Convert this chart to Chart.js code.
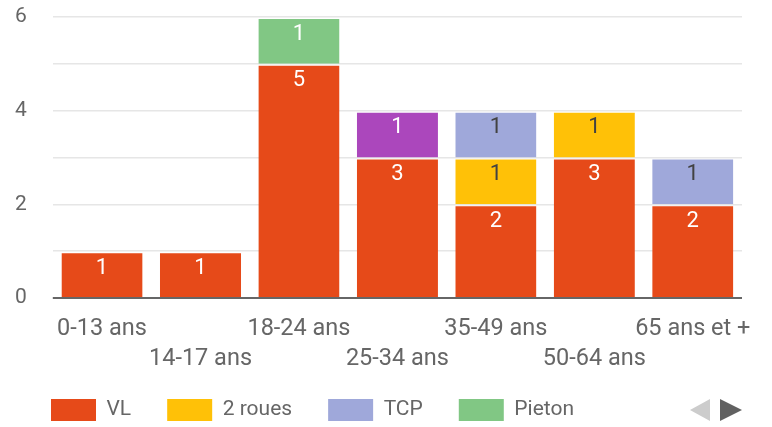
<!DOCTYPE html>
<html>
<head>
<meta charset="utf-8">
<script src="https://cdn.jsdelivr.net/npm/chart.js@4.4.1/dist/chart.umd.min.js"></script>
<style>
  html, body { margin: 0; padding: 0; background: #fff; }
  #wrap { width: 772px; height: 427px; }
</style>
</head>
<body>
<div id="wrap"><canvas id="chart"></canvas></div>
<script>
// age groups on the x axis
const categories = ['0-13 ans', '14-17 ans', '18-24 ans', '25-34 ans', '35-49 ans', '50-64 ans', '65 ans et +'];

// series (stacked bottom -> top)
const vl     = [1, 1, 5, 3, 2, 3, 2];
const roues2 = [0, 0, 0, 0, 1, 1, 0];
const tcp    = [0, 0, 0, 0, 1, 0, 1];
const pieton = [0, 0, 1, 0, 0, 0, 0];
const autre  = [0, 0, 0, 1, 0, 0, 0]; // 5th series, legend shows it on page 2

const yMax = 6;
const yLabelStep = 2;

const TEXT = '#666';
const FONT = 'Roboto';

function barSet(label, data, color, labelColor) {
  return {
    label: label,
    data: data,
    backgroundColor: color,
    borderColor: 'rgba(0,0,0,0)',
    borderWidth: { top: 2, left: 0, right: 0, bottom: 0 },
    labelColor: labelColor,
    barPercentage: 0.824,
    categoryPercentage: 1
  };
}

// value inside each segment + dark baseline drawn over the bars
const valueLabels = {
  id: 'valueLabels',
  afterDatasetsDraw(chart) {
    const ctx = chart.ctx;
    ctx.save();
    ctx.font = '22px ' + FONT;
    ctx.textAlign = 'center';
    ctx.textBaseline = 'middle';
    chart.data.datasets.forEach((ds, i) => {
      const meta = chart.getDatasetMeta(i);
      meta.data.forEach((bar, j) => {
        const v = ds.data[j];
        if (!v) return;
        ctx.fillStyle = ds.labelColor;
        ctx.fillText(String(v), bar.x, bar.y + 17);
      });
    });
    const y0 = chart.scales.y.getPixelForValue(0);
    ctx.strokeStyle = TEXT;
    ctx.lineWidth = 2;
    ctx.beginPath();
    ctx.moveTo(chart.chartArea.left, y0);
    ctx.lineTo(chart.chartArea.right, y0);
    ctx.stroke();
    ctx.restore();
  }
};

// legend sits a bit higher than the x labels' box allows
const legendNudge = {
  id: 'legendNudge',
  afterLayout(chart) {
    if (chart.legend) chart.legend.top -= 10;
  }
};

// legend paging arrows (Google-style)
const pagerArrows = {
  id: 'pagerArrows',
  afterDraw(chart) {
    const lg = chart.legend;
    if (!lg) return;
    const ctx = chart.ctx;
    const cy = lg.top + lg.options.labels.padding + 11;
    const r = chart.chartArea.right;
    ctx.save();
    ctx.fillStyle = '#ccc';
    ctx.beginPath();
    ctx.moveTo(r - 52, cy);
    ctx.lineTo(r - 32, cy - 11);
    ctx.lineTo(r - 32, cy + 11);
    ctx.closePath();
    ctx.fill();
    ctx.fillStyle = '#616161';
    ctx.beginPath();
    ctx.moveTo(r - 22, cy - 11);
    ctx.lineTo(r, cy);
    ctx.lineTo(r - 22, cy + 11);
    ctx.closePath();
    ctx.fill();
    ctx.restore();
  }
};

new Chart(document.getElementById('chart').getContext('2d'), {
  type: 'bar',
  data: {
    labels: categories,
    datasets: [
      barSet('VL', vl, '#e64a19', '#fff'),
      barSet('2 roues', roues2, '#ffc107', '#424242'),
      barSet('TCP', tcp, '#9fa8da', '#424242'),
      barSet('Pieton', pieton, '#81c784', '#fff'),
      barSet('Autre', autre, '#ab47bc', '#fff')
    ]
  },
  options: {
    responsive: true,
    maintainAspectRatio: false,
    animation: false,
    layout: { padding: { top: 17, left: 15, right: 30, bottom: 0 } },
    plugins: {
      tooltip: { enabled: false },
      legend: {
        position: 'bottom',
        align: 'start',
        maxHeight: 54,
        labels: {
          boxWidth: 45,
          boxHeight: 22,
          padding: 36,
          color: TEXT,
          font: { family: FONT, size: 21 },
          filter: item => item.datasetIndex < 4
        }
      }
    },
    scales: {
      x: {
        stacked: true,
        grid: { display: false },
        border: { display: false },
        afterFit: scale => { scale.height = 75; },
        ticks: {
          autoSkip: false,
          maxRotation: 0,
          minRotation: 0,
          padding: 8,
          color: TEXT,
          font: { family: FONT, size: 23.5, lineHeight: 1.27 },
          callback: (value, index) => index % 2 ? ['', categories[index]] : categories[index]
        }
      },
      y: {
        stacked: true,
        min: 0,
        max: yMax,
        border: { display: false },
        grid: { color: '#e6e6e6', lineWidth: 1.5, drawTicks: true, tickLength: 26, tickColor: 'rgba(0,0,0,0)' },
        ticks: {
          stepSize: 1,
          padding: 0,
          color: TEXT,
          font: { family: FONT, size: 21 },
          callback: v => (v % yLabelStep === 0 ? v : '')
        }
      }
    }
  },
  plugins: [valueLabels, legendNudge, pagerArrows]
});
</script>
</body>
</html>
